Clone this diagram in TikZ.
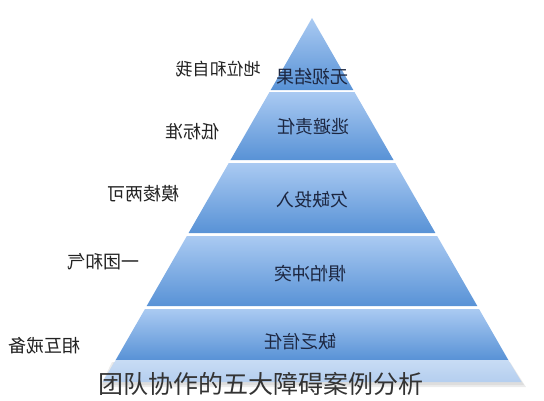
\documentclass[tikz,border=0pt]{standalone}
\usepackage{fontspec}
\setmainfont{Noto Sans CJK SC}
\usepackage{graphicx}
\usepackage{xcolor}
\usetikzlibrary{positioning}

\definecolor{bandtop}{HTML}{AACAF2}
\definecolor{bandbot}{HTML}{5892D6}
\definecolor{striptop}{HTML}{C8DCF4}
\definecolor{stripbot}{HTML}{B4CEEF}
\definecolor{inktext}{HTML}{1C2640}
\definecolor{sidetext}{HTML}{222222}
\definecolor{titletext}{HTML}{333333}

\begin{document}
\begin{tikzpicture}[
    x=1pt, y=-1pt,
    band/.style={top color=bandtop, bottom color=bandbot},
    inlabel/.style={font=\fontsize{18}{18}\selectfont, text=inktext},
    sidelabel/.style={font=\fontsize{18}{18}\selectfont, text=sidetext},
    title/.style={font=\fontsize{25}{25}\selectfont, text=titletext}
]
\useasboundingbox (0,0) rectangle (544,400);

% pyramid
\shade[band] (312,18) -- (353.3,90) -- (270.7,90) -- cycle;
\foreach \ya/\yb in {92/160, 163/233, 236/306, 309/360} {
  \pgfmathsetmacro\wa{0.574*(\ya-18)}
  \pgfmathsetmacro\wb{0.574*(\yb-18)}
  \shade[band] (312-\wa,\ya) -- (312+\wa,\ya) -- (312+\wb,\yb) -- (312-\wb,\yb) -- cycle;
}

% base strip with soft shadow
\fill[black!30, opacity=0.25] (112,362) -- (510,362) -- (526,387) -- (100,387) -- cycle;
\fill[black!30, opacity=0.25] (114,362) -- (509,362) -- (524,385) -- (102,385) -- cycle;
\shade[top color=striptop, bottom color=stripbot] (115.7,360) -- (508.3,360) -- (521.5,382) -- (102.5,382) -- cycle;

% layer labels
\node[inlabel] (results) at (312,77) {\reflectbox{无视结果}};
\node[inlabel] (account) at (313,127) {\reflectbox{逃避责任}};
\node[inlabel] (commit) at (312,200) {\reflectbox{欠缺投入}};
\node[inlabel] (conflict) at (310,274) {\reflectbox{惧怕冲突}};
\node[inlabel] (trust) at (300,342) {\reflectbox{缺乏信任}};

% symptoms
\node[sidelabel, font=\fontsize{17}{17}\selectfont] (status) at (218,69) {\reflectbox{地位和自我}};
\node[sidelabel] (lowstd) at (192,132) {\reflectbox{低标准}};
\node[sidelabel] (vague) at (143,194) {\reflectbox{模棱两可}};
\node[sidelabel] (harmony) at (103,262) {\reflectbox{一团和气}};
\node[sidelabel] (guard) at (45,346) {\reflectbox{相互戒备}};

\node[title] (caption) at (261,384) {团队协作的五大障碍案例分析};

\end{tikzpicture}
\end{document}
